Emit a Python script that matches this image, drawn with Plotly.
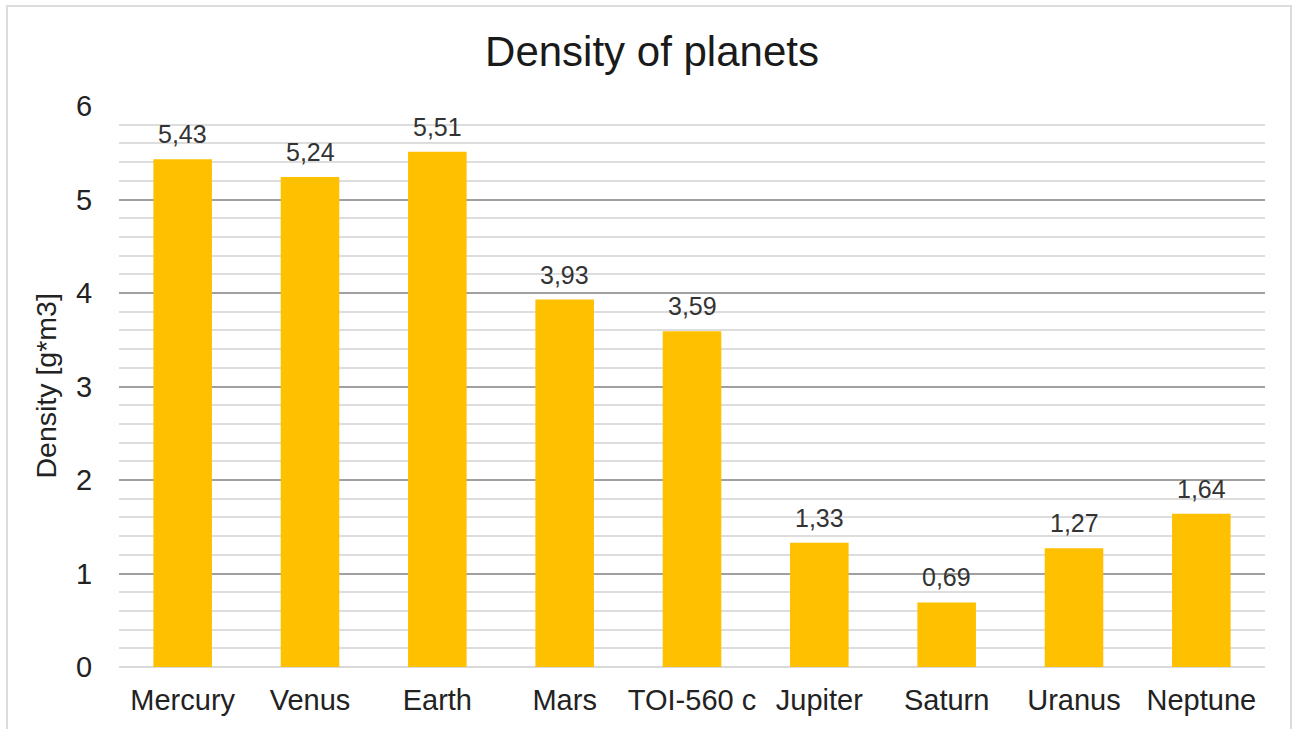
import plotly.graph_objects as go

# Planet names and mean densities
planets = ["Mercury", "Venus", "Earth", "Mars", "TOI-560 c",
           "Jupiter", "Saturn", "Uranus", "Neptune"]
density = [5.43, 5.24, 5.51, 3.93, 3.59, 1.33, 0.69, 1.27, 1.64]
y_ticks = [0, 1, 2, 3, 4, 5, 6]

FONT = "Liberation Sans, Arial, sans-serif"
W, H = 1298, 729
ML, MR, MT, MB = 119, 33, 106, 62
PW, PH = W - ML - MR, H - MT - MB


def px_x(px):
    return (px - ML) / PW


def px_y(py):
    return (H - MB - py) / PH


fig = go.Figure(
    go.Bar(
        x=planets,
        y=density,
        marker=dict(color="#FFC000", line=dict(width=0)),
        hovertemplate="%{x}: %{y:.2f}<extra></extra>",
    )
)

# value labels sit a little above each bar
value_labels = [
    dict(
        x=p, y=d, xref="x", yref="y",
        text=f"{d:.2f}".replace(".", ","),
        showarrow=False, xanchor="center", yanchor="bottom", yshift=9,
        font=dict(family=FONT, size=25, color="#333333"),
    )
    for p, d in zip(planets, density)
]

fig.update_layout(
    width=W,
    height=H,
    margin=dict(l=ML, r=MR, t=MT, b=MB),
    paper_bgcolor="white",
    plot_bgcolor="white",
    separators=",.",
    bargap=0.54,
    showlegend=False,
    title=dict(
        text="Density of planets",
        font=dict(family=FONT, size=42, color="#1a1a1a"),
        x=652 / W, xref="container", xanchor="center",
        y=1 - 51 / H, yref="container", yanchor="middle",
    ),
    xaxis=dict(
        tickfont=dict(family=FONT, size=29, color="#222222"),
        ticks="outside", ticklen=7, tickcolor="rgba(0,0,0,0)",
        showline=False, showgrid=False,
    ),
    yaxis=dict(
        range=[0, 6],
        tickvals=y_ticks,
        tickfont=dict(family=FONT, size=29, color="#222222"),
        ticks="outside", ticklen=20, tickcolor="rgba(0,0,0,0)",
        showgrid=True, gridcolor="#a0a0a0", gridwidth=1.5,
        minor=dict(dtick=0.2, showgrid=True, gridcolor="#dddddd", gridwidth=1.5),
        zeroline=True, zerolinecolor="#d9d9d9", zerolinewidth=1.5,
        showline=False,
    ),
    annotations=value_labels + [
        dict(
            text="Density [g*m3]",
            textangle=-90,
            x=px_x(45), y=0.5, xref="paper", yref="paper",
            xanchor="center", yanchor="middle", showarrow=False,
            font=dict(family=FONT, size=28.5, color="#222222"),
        )
    ],
    shapes=[
        dict(
            type="rect", xref="paper", yref="paper",
            x0=px_x(7), x1=px_x(1291), y0=px_y(745), y1=px_y(6),
            line=dict(color="#dcdcdc", width=2), layer="below",
        )
    ],
)

fig.write_html("out.html")
